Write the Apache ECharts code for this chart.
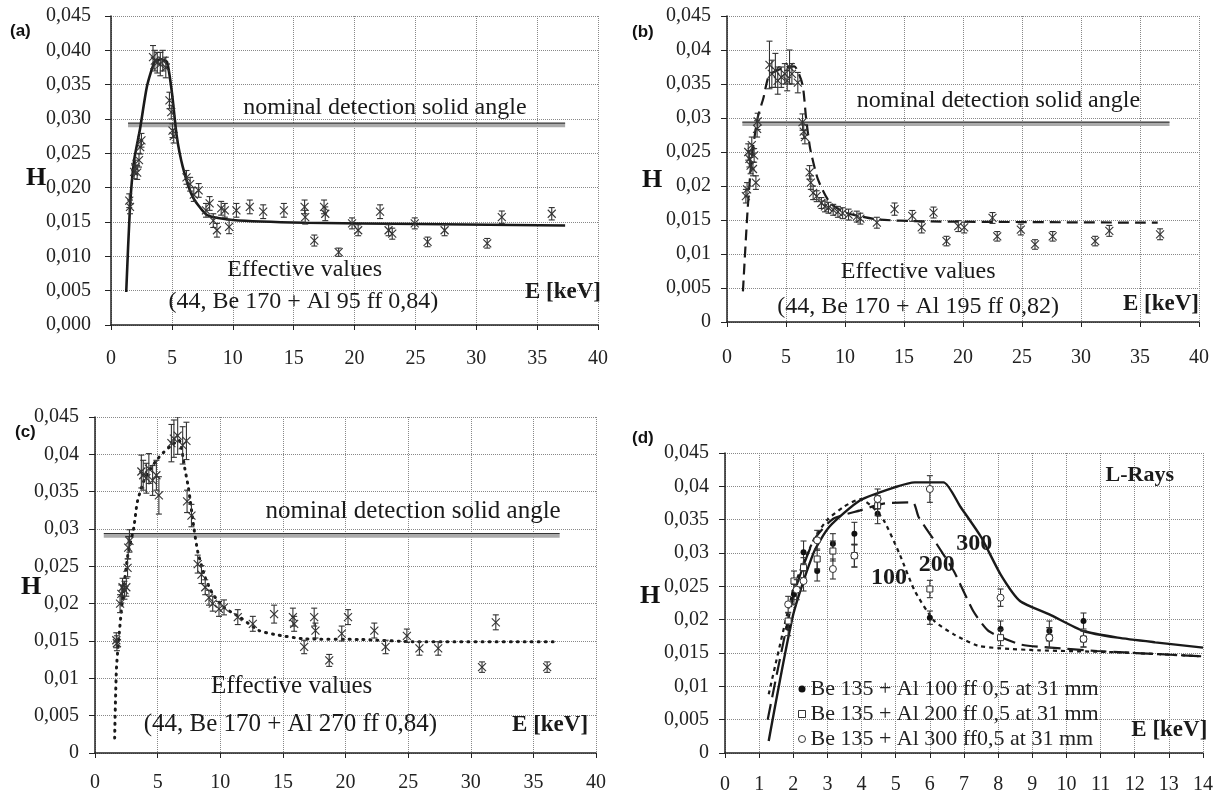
<!DOCTYPE html>
<html><head><meta charset="utf-8">
<script src="https://cdn.jsdelivr.net/npm/echarts@6/dist/echarts.min.js"></script>
<style>html,body{margin:0;padding:0;background:#fff}#c{width:1223px;height:800px}</style>
</head><body><div id="c"></div>
<script>
// ---------- DATA ----------
// [E (keV), H, error]
const pointsA = [[1.5,0.0181,0.001],[1.56,0.0172,0.001],[1.9,0.0223,0.001],[2.0,0.023,0.001],[2.15,0.0222,0.001],[2.3,0.024,0.001],[2.4,0.0259,0.001],[2.5,0.0269,0.001],
 [3.45,0.039,0.0017],[3.6,0.0385,0.0015],[3.8,0.0382,0.0015],[4.05,0.038,0.0017],[4.25,0.0385,0.0015],[4.5,0.0375,0.0015],[4.8,0.0327,0.0012],[4.95,0.031,0.001],[5.05,0.0283,0.001],[5.15,0.0275,0.001],
 [6.2,0.0215,0.001],[6.5,0.0205,0.001],[6.8,0.019,0.001],[7.2,0.0196,0.001],[7.8,0.0167,0.001],[8.1,0.0177,0.001],[8.4,0.0152,0.001],[8.7,0.0138,0.001],[9.05,0.017,0.001],[9.35,0.0167,0.001],[9.7,0.0143,0.001],[10.3,0.0167,0.001],
 [11.4,0.0172,0.001],[12.5,0.0165,0.001],[14.2,0.0167,0.001],[15.9,0.0172,0.001],[15.95,0.0157,0.001],[16.7,0.0123,0.0008],[17.5,0.0172,0.001],[17.6,0.0162,0.001],[18.7,0.0106,0.0006],[19.8,0.0148,0.0008],[20.3,0.0138,0.0008],
 [22.1,0.0165,0.001],[22.8,0.0138,0.0008],[23.1,0.0133,0.0008],[24.95,0.0148,0.0008],[26.0,0.0121,0.0007],[27.4,0.0138,0.0008],[30.9,0.0119,0.0007],[32.1,0.0157,0.0009],[36.2,0.0162,0.0009]];
const fitA = [[1.25,0.0048],[1.56,0.0172],[1.9,0.024],[2.38,0.0285],[2.96,0.0348],[3.6,0.0384],[4.1,0.0387],[4.6,0.0383],[5.0,0.0339],[5.4,0.0275],[5.9,0.023],[6.7,0.0187],[7.9,0.016],[10.0,0.0153],[15.9,0.0149],[25.3,0.0147],[37.3,0.0145]];
const nominalA = [[1.4,0.0293],[37.3,0.0293]];

const pointsB = [[1.6,0.0185,0.001],[1.7,0.0195,0.001],[1.8,0.025,0.0012],[1.9,0.024,0.0012],[2.0,0.023,0.0012],[2.1,0.026,0.0012],[2.2,0.0225,0.001],[2.3,0.0245,0.001],[2.45,0.0205,0.001],[2.55,0.0284,0.0012],[2.6,0.0295,0.0012],
 [3.6,0.0378,0.0035],[3.8,0.0365,0.002],[4.1,0.037,0.0025],[4.3,0.0355,0.002],[4.6,0.036,0.0015],[4.9,0.0365,0.0015],[5.1,0.0355,0.0015],[5.3,0.0375,0.0025],[5.5,0.0365,0.0015],[6.0,0.0352,0.0015],
 [6.4,0.0294,0.0012],[6.5,0.028,0.001],[6.6,0.0272,0.001],[7.0,0.022,0.001],[7.1,0.0205,0.001],[7.3,0.019,0.001],[7.6,0.0185,0.0008],[8.0,0.0175,0.0008],[8.3,0.017,0.0008],[8.6,0.0168,0.0008],[9.0,0.0165,0.0008],[9.4,0.0162,0.0008],[9.8,0.016,0.0008],[10.3,0.0158,0.0008],[11.0,0.0155,0.0008],[11.3,0.0152,0.0008],
 [12.7,0.0146,0.0008],[14.2,0.0166,0.0009],[15.7,0.0156,0.0008],[16.5,0.0139,0.0008],[17.5,0.0161,0.0008],[18.6,0.0119,0.0007],[19.6,0.0141,0.0008],[20.1,0.0139,0.0008],[22.5,0.0153,0.0008],[22.9,0.0126,0.0007],[24.9,0.0136,0.0008],[26.1,0.0114,0.0007],[27.6,0.0126,0.0007],[31.2,0.0119,0.0007],[32.4,0.0134,0.0008],[36.7,0.0129,0.0008]];
const fitB = [[1.35,0.0045],[1.75,0.0166],[2.09,0.024],[2.58,0.0299],[3.08,0.0329],[3.58,0.0363],[4.7,0.0373],[5.7,0.0376],[6.4,0.0349],[6.7,0.030],[7.05,0.0255],[7.7,0.021],[8.7,0.0176],[10.0,0.0161],[12.7,0.0151],[16.7,0.0148],[36.5,0.0146]];
const nominalB = [[1.3,0.0293],[37.5,0.0293]];

const pointsC = [[1.7,0.0151,0.001],[1.75,0.0147,0.001],[2.0,0.02,0.0012],[2.1,0.0213,0.0012],[2.2,0.0222,0.0012],[2.35,0.0218,0.0012],[2.5,0.0222,0.0012],[2.6,0.0248,0.0012],[2.65,0.0275,0.0015],[2.75,0.0284,0.0015],
 [3.7,0.0377,0.0022],[3.85,0.0372,0.002],[4.1,0.0368,0.002],[4.3,0.0381,0.002],[4.6,0.0365,0.002],[4.9,0.0372,0.002],[5.1,0.0345,0.0025],[6.1,0.0415,0.0025],[6.3,0.0421,0.0025],[6.6,0.0425,0.0025],[7.0,0.0412,0.0025],[7.3,0.0418,0.0025],
 [7.35,0.0337,0.0015],[7.7,0.0318,0.0015],[8.2,0.0253,0.0012],[8.5,0.0239,0.0012],[8.8,0.0222,0.001],[9.1,0.0208,0.001],[9.4,0.02,0.001],[9.9,0.0193,0.001],[10.3,0.0195,0.001],
 [11.4,0.0182,0.001],[12.6,0.0173,0.001],[14.3,0.0186,0.0012],[15.8,0.0182,0.0012],[15.9,0.0173,0.001],[16.7,0.0142,0.0009],[17.5,0.0182,0.0012],[17.6,0.0164,0.001],[18.7,0.0124,0.0008],[19.7,0.016,0.001],[20.2,0.0182,0.001],
 [22.3,0.0164,0.001],[23.2,0.0142,0.0009],[24.9,0.0157,0.0009],[25.9,0.014,0.0009],[27.4,0.014,0.0009],[30.9,0.0115,0.0007],[32.0,0.0175,0.001],[36.1,0.0115,0.0007]];
const fitC = [[1.57,0.002],[1.72,0.0115],[2.18,0.0204],[2.63,0.0266],[3.09,0.0301],[3.39,0.0337],[3.99,0.0368],[4.9,0.0392],[5.5,0.0403],[6.1,0.0412],[6.7,0.0419],[7.17,0.0381],[7.47,0.0354],[7.9,0.0301],[8.2,0.027],[8.8,0.0235],[9.4,0.0213],[10.3,0.0195],[11.55,0.0182],[13.1,0.0164],[14.6,0.0158],[16.7,0.0153],[21.2,0.0152],[25.8,0.0149],[37.0,0.0149]];
const nominalC = [[0.7,0.0293],[37.1,0.0293]];

const seriesNamesD = ['Be 135 + Al 100 ff 0,5 at 31 mm','Be 135 + Al 200 ff 0,5 at 31 mm','Be 135 + Al 300 ff0,5 at 31 mm'];
const pointsD100 = [[1.85,0.0188,0.0012],[2.02,0.0238,0.0015],[2.3,0.0301,0.0017],[2.7,0.0273,0.0015],[3.16,0.0314,0.0015],[3.79,0.0329,0.0017],[4.47,0.0359,0.0015],[6.0,0.0203,0.001],[8.07,0.0186,0.0012],[9.5,0.0183,0.0015],[10.5,0.0198,0.0012]];
const pointsD200 = [[1.85,0.0198,0.0012],[2.02,0.0258,0.0015],[2.3,0.0278,0.0015],[2.7,0.0291,0.0015],[3.16,0.0303,0.0015],[3.79,0.0296,0.0017],[4.47,0.0371,0.0015],[6.0,0.0246,0.0013],[8.07,0.0173,0.0012],[9.5,0.0173,0.0015],[10.5,0.0171,0.0012]];
const pointsD300 = [[1.85,0.0223,0.0012],[2.1,0.0245,0.0015],[2.3,0.0258,0.0015],[2.7,0.0319,0.0015],[3.16,0.0276,0.0015],[3.79,0.0296,0.0017],[4.47,0.0381,0.0015],[6.0,0.0396,0.002],[8.07,0.0233,0.0013],[9.5,0.0173,0.0015],[10.5,0.0171,0.0012]];
const fitD100 = [[1.28,0.0088],[2.02,0.0248],[2.6,0.032],[3.0,0.035],[3.5,0.037],[3.96,0.0381],[4.3,0.037],[4.65,0.0349],[5.1,0.030],[5.56,0.0243],[6.13,0.0198],[6.7,0.0178],[7.4,0.0161],[8.07,0.0157],[9.2,0.0154],[11.5,0.0151],[14.0,0.0145]];
const fitD200 = [[1.25,0.005],[2.02,0.0238],[2.6,0.0319],[3.16,0.0351],[3.96,0.0364],[4.64,0.0374],[5.5,0.0376],[5.67,0.0354],[6.13,0.0319],[6.7,0.0273],[7.27,0.0213],[7.72,0.0183],[8.64,0.0163],[9.55,0.0158],[10.9,0.0153],[14.0,0.0145]];
const fitD300 = [[1.28,0.0018],[2.0,0.0208],[2.6,0.0301],[3.05,0.0339],[3.96,0.0379],[5.0,0.0399],[5.56,0.0406],[6.4,0.0406],[6.9,0.0369],[7.5,0.0324],[8.07,0.0268],[8.64,0.0228],[9.5,0.0208],[10.5,0.0183],[11.5,0.0173],[12.6,0.0166],[14.0,0.0158]];

const xTicksABC = {min:0, max:40, interval:5};
const xTicksD = {min:0, max:14, interval:1};
const yTicks = {min:0, max:0.045, interval:0.005};

// ---------- LAYOUT ----------
const SERIF = 'Liberation Serif';
const grids = [
  {left:111, top:16, width:487, height:309},
  {left:727, top:16, width:472, height:306},
  {left:95, top:417, width:501, height:336},
  {left:725, top:453, width:478, height:300}
];
const chart = echarts.init(document.getElementById('c'), null, {renderer:'canvas'});

function makeRender(kind){
  return function(params, api){
    const x = api.value(0), y = api.value(1), e = api.value(2);
    const p = api.coord([x,y]), lo = api.coord([x,y-e]), hi = api.coord([x,y+e]);
    const st = {stroke:'#333', lineWidth:1.1};
    const ch = [
      {type:'line', shape:{x1:p[0],y1:lo[1],x2:p[0],y2:hi[1]}, style:st},
      {type:'line', shape:{x1:p[0]-3,y1:lo[1],x2:p[0]+3,y2:lo[1]}, style:st},
      {type:'line', shape:{x1:p[0]-3,y1:hi[1],x2:p[0]+3,y2:hi[1]}, style:st}
    ];
    if (kind === 'x') {
      const s = 4;
      ch.push({type:'line', shape:{x1:p[0]-s,y1:p[1]-s,x2:p[0]+s,y2:p[1]+s}, style:st});
      ch.push({type:'line', shape:{x1:p[0]-s,y1:p[1]+s,x2:p[0]+s,y2:p[1]-s}, style:st});
    } else if (kind === 'dot') {
      ch.push({type:'circle', shape:{cx:p[0],cy:p[1],r:3}, style:{fill:'#111'}});
    } else if (kind === 'square') {
      ch.push({type:'rect', shape:{x:p[0]-3,y:p[1]-3,width:6,height:6}, style:{fill:'#fff',stroke:'#333',lineWidth:1}});
    } else {
      ch.push({type:'circle', shape:{cx:p[0],cy:p[1],r:3.5}, style:{fill:'#fff',stroke:'#333',lineWidth:1}});
    }
    return {type:'group', children:ch};
  };
}
function custom(name, idx, data, kind){
  return {name, type:'custom', xAxisIndex:idx, yAxisIndex:idx, renderItem:makeRender(kind),
    encode:{x:0,y:1}, data, clip:true, z:5, itemStyle:{color:'#333'}};
}
function fitLine(idx, data, type, width, cap){
  return {type:'line', xAxisIndex:idx, yAxisIndex:idx, data, showSymbol:false, symbol:'none',
    smooth:0.2, lineStyle:{color:'#1a1a1a', width:width||2.4, type, cap:cap||'butt'}, z:4, silent:true};
}
function nominal(idx, data){
  return [
    {type:'line', xAxisIndex:idx, yAxisIndex:idx, data:data.map(d=>[d[0], d[1]-0.0002]), showSymbol:false, symbol:'none', lineStyle:{color:'#aaa', width:4}, z:2, silent:true},
    {type:'line', xAxisIndex:idx, yAxisIndex:idx, data:data.map(d=>[d[0], d[1]+0.0001]), showSymbol:false, symbol:'none', lineStyle:{color:'#333', width:1.2}, z:3, silent:true}
  ];
}
function xAxis(idx, ticks, margin){
  return Object.assign({gridIndex:idx, type:'value'}, ticks, {
    axisLine:{show:true, onZero:false, lineStyle:{color:'#222', width:1.5}},
    axisTick:{show:true, length:5, lineStyle:{color:'#222'}},
    axisLabel:{margin, fontFamily:SERIF, fontSize:20, color:'#222'},
    splitLine:{show:true, lineStyle:{type:'dotted', color:'#888', width:1}}
  });
}
function yAxis(idx, fixed3, margin){
  return Object.assign({gridIndex:idx, type:'value'}, yTicks, {
    axisLine:{show:true, onZero:false, lineStyle:{color:'#222', width:1.5}},
    axisTick:{show:true, length:6, lineStyle:{color:'#222'}},
    axisLabel:{margin, fontFamily:SERIF, fontSize:20, color:'#222',
      formatter: v => (fixed3 ? v.toFixed(3) : String(Number(v.toFixed(3)))).replace('.', ',')},
    splitLine:{show:true, lineStyle:{type:'dotted', color:'#888', width:1}}
  });
}

const option = {
  animation:false,
  backgroundColor:'#fff',
  grid: grids,
  xAxis:[xAxis(0,xTicksABC,24), xAxis(1,xTicksABC,26), xAxis(2,xTicksABC,20), xAxis(3,xTicksD,22)],
  yAxis:[yAxis(0,true,20), yAxis(1,false,16), yAxis(2,false,16), yAxis(3,false,16)],
  legend:{
    data:[
      {name:seriesNamesD[0], icon:'circle', itemStyle:{color:'#111'}},
      {name:seriesNamesD[1], icon:'rect', itemStyle:{color:'#fff', borderColor:'#333', borderWidth:1}},
      {name:seriesNamesD[2], icon:'circle', itemStyle:{color:'#fff', borderColor:'#333', borderWidth:1}}
    ],
    orient:'vertical', left:793, top:673, itemWidth:7, itemHeight:7, itemGap:3,
    selectedMode:false, textStyle:{fontFamily:SERIF, fontSize:22, color:'#222'}
  },
  series: [
    ...nominal(0, nominalA), fitLine(0, fitA, 'solid', 2.6), custom('a', 0, pointsA, 'x'),
    ...nominal(1, nominalB), fitLine(1, fitB, [11,6], 2.2), custom('b', 1, pointsB, 'x'),
    ...nominal(2, nominalC), fitLine(2, fitC, [1,6], 3, 'round'), custom('c', 2, pointsC, 'x'),
    fitLine(3, fitD300, 'solid', 2.4), fitLine(3, fitD200, [16,7], 2.2), fitLine(3, fitD100, [4,4], 2.2),
    custom(seriesNamesD[0], 3, pointsD100, 'dot'),
    custom(seriesNamesD[1], 3, pointsD200, 'square'),
    custom(seriesNamesD[2], 3, pointsD300, 'circle')
  ]
};
chart.setOption(option);

// ---------- TEXT ANNOTATIONS ----------
const notes = [
  {g:0, at:[22.5,0.0317], text:'nominal detection solid angle', size:24},
  {g:0, at:[15.9,0.0080], text:'Effective values', size:24},
  {g:0, at:[15.8,0.0034], text:'(44, Be 170 + Al 95 ff 0,84)', size:24},
  {g:0, at:[34.0,0.0048], text:'E [keV]', size:23, bold:true, align:'left'},
  {g:1, at:[23.0,0.0326], text:'nominal detection solid angle', size:24},
  {g:1, at:[16.2,0.0074], text:'Effective values', size:24},
  {g:1, at:[16.2,0.0022], text:'(44, Be 170 + Al 195 ff 0,82)', size:24},
  {g:1, at:[40.0,0.0027], text:'E [keV]', size:23, bold:true, align:'right'},
  {g:2, at:[25.4,0.0323], text:'nominal detection solid angle', size:25},
  {g:2, at:[15.7,0.0089], text:'Effective values', size:25},
  {g:2, at:[15.6,0.0038], text:'(44, Be 170 + Al 270 ff 0,84)', size:25},
  {g:2, at:[33.3,0.0038], text:'E [keV]', size:23, bold:true, align:'left'},
  {g:3, at:[12.15,0.0416], text:'L-Rays', size:22, bold:true},
  {g:3, at:[7.3,0.0314], text:'300', size:24, bold:true},
  {g:3, at:[6.2,0.0283], text:'200', size:24, bold:true},
  {g:3, at:[4.8,0.0263], text:'100', size:24, bold:true},
  {g:3, at:[11.9,0.0035], text:'E [keV]', size:23, bold:true, align:'left'}
];
const graphics = notes.map(n => {
  const p = chart.convertToPixel({gridIndex:n.g}, n.at);
  return {type:'text', x:p[0], y:p[1], z:10, style:{text:n.text, fontFamily:SERIF, fontSize:n.size,
    fontWeight:n.bold?'bold':'normal', fill:'#1a1a1a', align:n.align||'center', verticalAlign:'middle'}};
});
const labels = [
  {x:10, y:31, text:'(a)'}, {x:632, y:32, text:'(b)'}, {x:15, y:432, text:'(c)'}, {x:632, y:438, text:'(d)'}
];
labels.forEach(l => graphics.push({type:'text', x:l.x, y:l.y, style:{text:l.text, fontFamily:'Liberation Sans', fontWeight:'bold', fontSize:17, fill:'#111', verticalAlign:'middle'}}));
const hs = [[36,178],[652,180],[31,587],[650,596]];
hs.forEach(h => graphics.push({type:'text', x:h[0], y:h[1], style:{text:'H', fontFamily:SERIF, fontWeight:'bold', fontSize:26, fill:'#111', align:'center', verticalAlign:'middle'}}));
chart.setOption({graphic: graphics});
</script>
</body></html>
